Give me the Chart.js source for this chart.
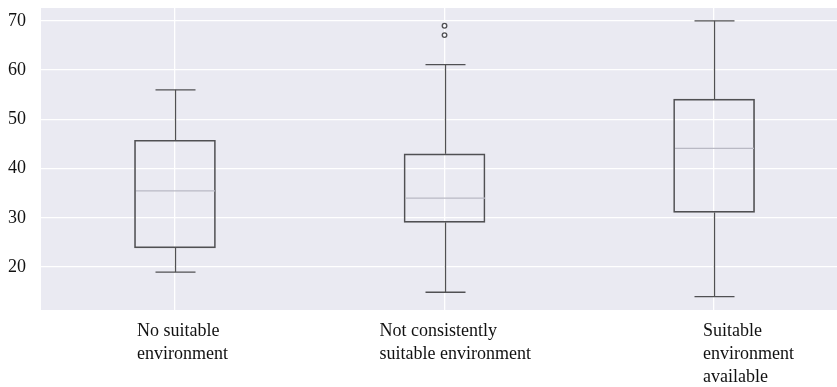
<!DOCTYPE html>
<html><head><meta charset="utf-8">
<script src="https://cdn.jsdelivr.net/npm/chart.js@4.4.0/dist/chart.umd.min.js"></script>
<style>html,body{margin:0;padding:0;background:#fff;}canvas{display:block;}</style>
</head><body>
<canvas id="c" width="837" height="387"></canvas>
<script>
// ---- data ----
const categories = [["No suitable", "environment"], ["Not consistently", "suitable environment"], ["Suitable", "environment", "available"]];
const whiskerLow  = [19.0, 14.9, 14.0];
const q1          = [23.9, 29.1, 31.1];
const median      = [35.5, 34.0, 44.1];
const q3          = [45.75, 43.0, 54.1];
const whiskerHigh = [56.0, 61.1, 70.0];
const outlierCategory = [1, 1];
const outlierValue    = [67.1, 69.0];
const yTickValues = [20, 30, 40, 50, 60, 70];

// ---- style / layout constants ----
const BOX_COLOR = '#505053';
const MEDIAN_COLOR = '#b9b9c4';
const CAP_HALF = 20;
const X_MIN = -0.497, X_MAX = 2.456;
const LABEL_ANCHORS = [-0.141, 0.759, 1.959];

const bgPlugin = {
  id: 'bg',
  beforeDraw(chart) {
    const {ctx, chartArea: a} = chart;
    ctx.save();
    ctx.fillStyle = '#eaeaf2';
    ctx.fillRect(a.left, a.top, a.right - a.left, a.bottom - a.top);
    ctx.restore();
  }
};

const whiskerPlugin = {
  id: 'whiskers',
  afterDatasetsDraw(chart) {
    const {ctx} = chart;
    const xs = chart.scales.x, ys = chart.scales.y;
    const boxMeta = chart.getDatasetMeta(0);
    ctx.save();
    ctx.lineWidth = 1.3;
    categories.forEach((c, i) => {
      const x = Math.round(xs.getPixelForValue(i)) + 0.5;
      const bar = boxMeta.data[i];
      const half = bar.width / 2;
      ctx.strokeStyle = BOX_COLOR;
      const seg = (x1, y1, x2, y2) => { ctx.beginPath(); ctx.moveTo(x1, y1); ctx.lineTo(x2, y2); ctx.stroke(); };
      seg(x, ys.getPixelForValue(q3[i]), x, ys.getPixelForValue(whiskerHigh[i]));
      seg(x, ys.getPixelForValue(q1[i]), x, ys.getPixelForValue(whiskerLow[i]));
      seg(x - CAP_HALF, ys.getPixelForValue(whiskerHigh[i]), x + CAP_HALF, ys.getPixelForValue(whiskerHigh[i]));
      seg(x - CAP_HALF, ys.getPixelForValue(whiskerLow[i]), x + CAP_HALF, ys.getPixelForValue(whiskerLow[i]));
      ctx.strokeStyle = MEDIAN_COLOR;
      const my = ys.getPixelForValue(median[i]);
      seg(x - half + 1, my, x + half - 1, my);
    });
    ctx.restore();
  }
};

const zeroPad = s => { s.paddingTop = 0; s.paddingBottom = 0; s.paddingLeft = 0; s.paddingRight = 0; };

new Chart(document.getElementById('c'), {
  type: 'bar',
  data: {
    datasets: [
      {
        type: 'bar',
        data: categories.map((c, i) => ({x: i, y: [q1[i], q3[i]]})),
        backgroundColor: 'rgba(0,0,0,0)',
        borderColor: BOX_COLOR,
        borderWidth: 1,
        borderSkipped: false,
        barThickness: 81,
        grouped: false
      },
      {
        type: 'scatter',
        data: outlierValue.map((v, i) => ({x: outlierCategory[i], y: v})),
        pointRadius: 2.3,
        pointBackgroundColor: 'rgba(0,0,0,0)',
        pointBorderColor: BOX_COLOR,
        pointBorderWidth: 1.3
      }
    ]
  },
  options: {
    responsive: false,
    animation: false,
    devicePixelRatio: 1,
    layout: {autoPadding: false, padding: {top: 8, left: 0, right: 0, bottom: 0}},
    plugins: {legend: {display: false}, tooltip: {enabled: false}, title: {display: false}},
    scales: {
      x: {
        type: 'linear', position: 'bottom', min: X_MIN, max: X_MAX, offset: false,
        afterBuildTicks: s => { s.ticks = categories.map((c, i) => ({value: i})); },
        afterFit: s => { s.height = 0; zeroPad(s); },
        ticks: {display: false},
        grid: {color: '#ffffff', lineWidth: 1.3, drawTicks: false, offset: false},
        border: {display: false}
      },
      xl: {
        type: 'linear', position: 'bottom', min: X_MIN, max: X_MAX, offset: false,
        afterBuildTicks: s => { s.ticks = LABEL_ANCHORS.map(v => ({value: v})); },
        afterFit: s => { s.height = 77; zeroPad(s); },
        ticks: {
          autoSkip: false, maxRotation: 0, minRotation: 0, align: 'start', padding: 10,
          color: '#111111',
          font: {family: '"Liberation Serif", "Times New Roman", serif', size: 18, lineHeight: '23px'},
          callback: (v, i) => categories[i]
        },
        grid: {display: false, drawTicks: false},
        border: {display: false}
      },
      y: {
        type: 'linear', position: 'left', min: 11.3, max: 72.6,
        afterBuildTicks: s => { s.ticks = yTickValues.map(v => ({value: v})); },
        afterFit: s => { s.width = 41; zeroPad(s); },
        ticks: {
          padding: 15, color: '#111111',
          font: {family: '"Liberation Serif", "Times New Roman", serif', size: 18}
        },
        grid: {color: '#ffffff', lineWidth: 1.3, drawTicks: false},
        border: {display: false}
      }
    }
  },
  plugins: [bgPlugin, whiskerPlugin]
});
</script>
</body></html>
